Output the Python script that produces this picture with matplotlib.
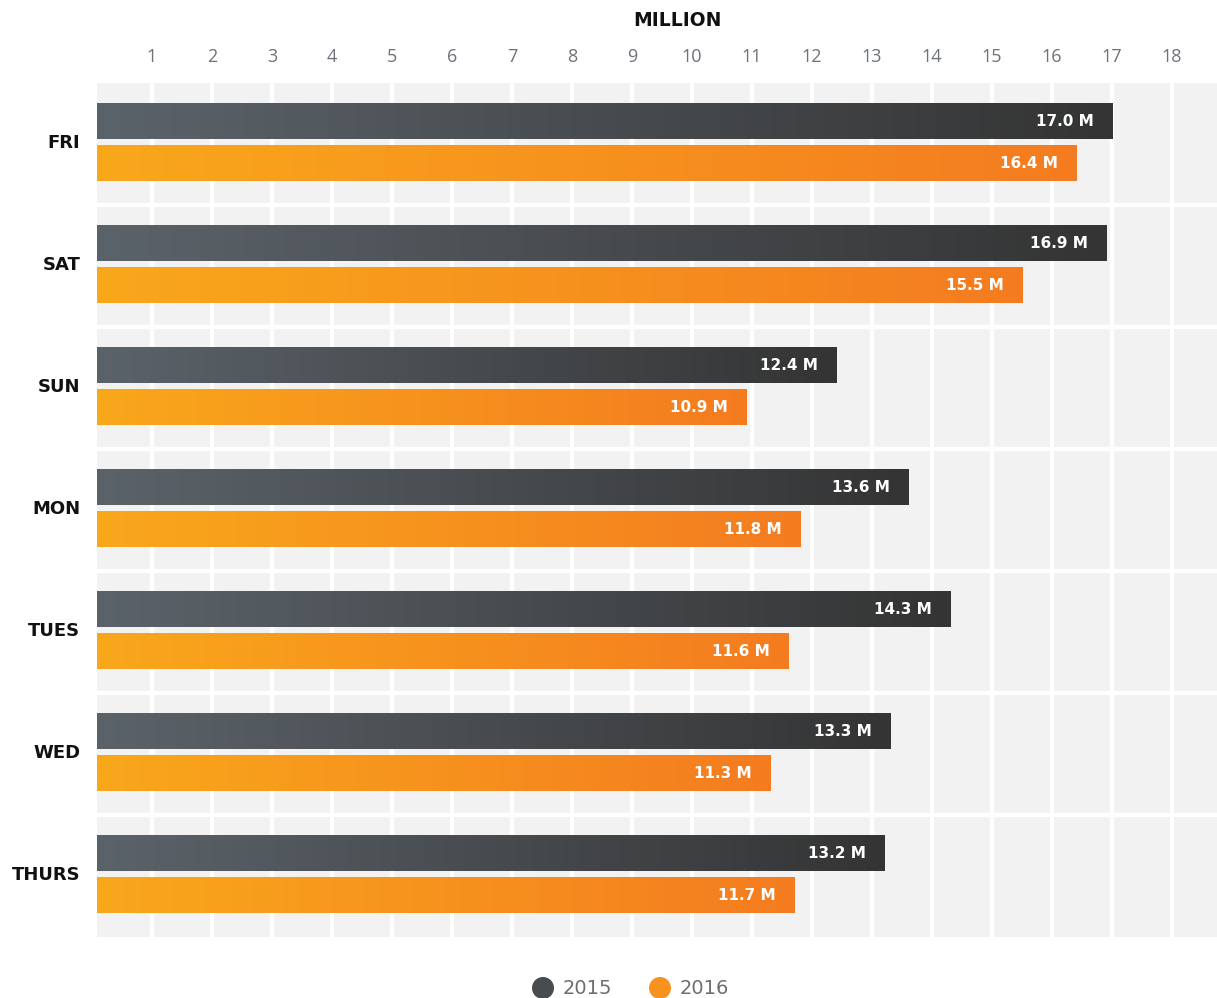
import matplotlib
matplotlib.use('Agg')
import matplotlib.pyplot as plt
from matplotlib.colors import LinearSegmentedColormap
import numpy as np

days = ['FRI', 'SAT', 'SUN', 'MON', 'TUES', 'WED', 'THURS']
v2015 = [17.0, 16.9, 12.4, 13.6, 14.3, 13.3, 13.2]
v2016 = [16.4, 15.5, 10.9, 11.8, 11.6, 11.3, 11.7]
ticks = list(range(1, 19))
series = ['2015', '2016']

plt.rcParams['font.family'] = ['Open Sans', 'DejaVu Sans']
wide = 'DejaVu Sans'

cmap15 = LinearSegmentedColormap.from_list('c15', ['#5b636a', '#343434'])
cmap16 = LinearSegmentedColormap.from_list('c16', ['#f9a81b', '#f47c20'])

fig = plt.figure(figsize=(12.17, 9.98), dpi=100)
ax = fig.add_axes([97 / 1217, 1 - 937 / 998, 1 - 97 / 1217, (937 - 83) / 998])
ax.set_facecolor('#f2f2f2')

grad = np.linspace(0, 1, 256).reshape(1, -1)
h = 0.295
off = 0.172
for i in range(len(days)):
    for val, cm, dy in ((v2015[i], cmap15, -off), (v2016[i], cmap16, off)):
        y = i + dy - 0.015
        ax.imshow(grad, cmap=cm, aspect='auto', extent=[0, val, y + h / 2, y - h / 2],
                  zorder=3, interpolation='bilinear')
        ax.annotate('%.1f M' % val, xy=(val, y), xytext=(-13, 0), textcoords='offset points',
                    ha='right', va='center', color='white', fontsize=11, fontweight='bold',
                    family=wide, zorder=4)

for t in ticks:
    ax.axvline(t, color='white', lw=3, zorder=1)
for i in range(len(days) - 1):
    ax.axhline(i + 0.5, color='white', lw=3, zorder=1)

ax.set_xlim(0.083, 18.75)
ax.set_ylim(len(days) - 0.5, -0.5)

ax.xaxis.tick_top()
ax.set_xticks(ticks)
ax.set_xticklabels([str(t) for t in ticks], fontsize=13, color='#6d7278')
ax.set_yticks([i - 0.025 for i in range(len(days))])
ax.set_yticklabels(days, fontsize=13, fontweight='bold', color='#111111', family=wide)
ax.tick_params(axis='x', length=0, pad=12)
ax.tick_params(axis='y', length=0, pad=12)
for s in ax.spines.values():
    s.set_visible(False)

fig.text(677 / 1217, 1 - 20 / 998, 'MILLION', ha='center', va='center',
         fontsize=13.5, fontweight='bold', color='#111111', family=wide)

# legend
leg_ax = fig.add_axes([0, 0, 1, 1], facecolor='none')
leg_ax.set_xlim(0, 1217)
leg_ax.set_ylim(998, 0)
leg_ax.axis('off')
leg_ax.scatter([543, 660], [988, 988], s=220, c=['#474c51', '#f7921e'], zorder=5)
leg_ax.text(563, 989, series[0], ha='left', va='center', fontsize=14, color='#6b6e72', family=wide)
leg_ax.text(680, 989, series[1], ha='left', va='center', fontsize=14, color='#6b6e72', family=wide)

fig.savefig('out.png', dpi=100)
